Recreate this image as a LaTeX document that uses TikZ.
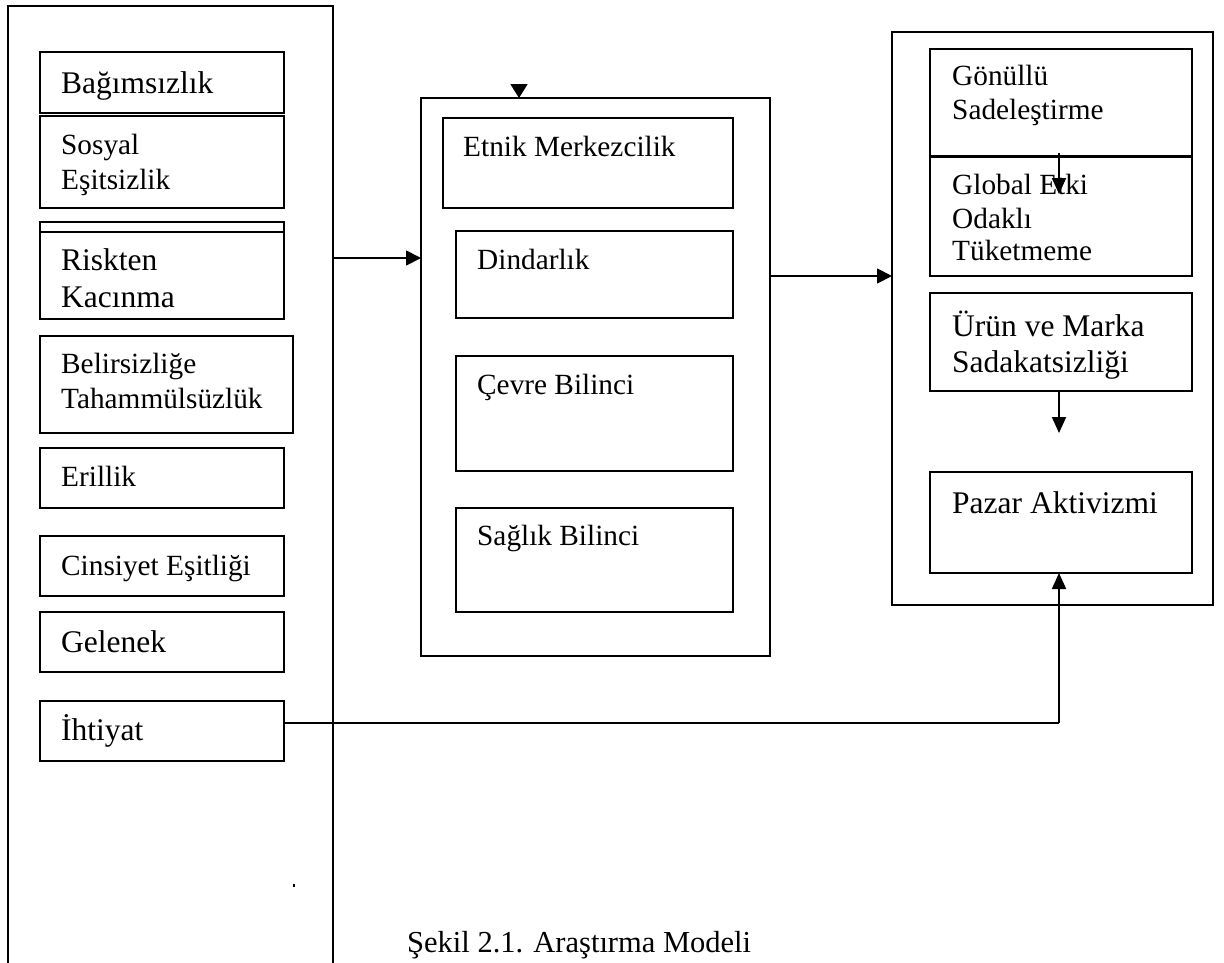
\documentclass[tikz,border=0pt]{standalone}
\usepackage{fontspec}
\setmainfont{Liberation Serif}
\usetikzlibrary{arrows.meta}
\tikzset{
  boxnode/.style={draw, line width=1.5pt, rectangle, inner sep=0pt, outer sep=0pt},
  smalltxt/.style={inner sep=0pt, anchor=base west, font=\fontsize{29.3}{35}\selectfont},
  bigtxt/.style={inner sep=0pt, anchor=base west, font=\fontsize{31.5}{37}\selectfont},
  arr/.style={line width=1.8pt, -{Triangle[length=15pt,width=15pt]}},
}
\begin{document}
\begin{tikzpicture}[x=1pt,y=-1pt]
\useasboundingbox (0,0) rectangle (1224,962);
\clip (0,0) rectangle (1224,962);
% ---------- left column ----------
\node[boxnode, minimum width=325, minimum height=969] (L) at (170.5,490.5) {};
\node[boxnode, minimum width=244, minimum height=61] (bag) at (162,82.5) {};
\node[boxnode, minimum width=244, minimum height=92] (sos) at (162,162) {};
\node[boxnode, minimum width=244, minimum height=97] (risk) at (162,270.5) {};
\draw[line width=1.5pt] (risk.west |- 0,232) -- (risk.east |- 0,232);
\node[boxnode, minimum width=253, minimum height=97] (bel) at (166.5,384.5) {};
\node[boxnode, minimum width=244, minimum height=60] (eril) at (162,478) {};
\node[boxnode, minimum width=244, minimum height=60] (cins) at (162,566) {};
\node[boxnode, minimum width=244, minimum height=60] (gel) at (162,642) {};
\node[boxnode, minimum width=244, minimum height=60] (iht) at (162,731) {};
\node[bigtxt] (tbag) at (61,93) {Bağımsızlık};
\node[smalltxt] (tsos1) at (61,154) {Sosyal};
\node[smalltxt] (tsos2) at (61,189) {Eşitsizlik};
\node[bigtxt] (trisk1) at (61,270) {Riskten};
\node[bigtxt] (trisk2) at (61,307) {Kacınma};
\node[smalltxt] (tbel1) at (61,373) {Belirsizliğe};
\node[smalltxt] (tbel2) at (61,408) {Tahammülsüzlük};
\node[smalltxt] (teril) at (61,486) {Erillik};
\node[smalltxt] (tcins) at (61,575) {Cinsiyet Eşitliği};
\node[bigtxt] (tgel) at (61,652) {Gelenek};
\node[bigtxt] (tiht) at (61,740) {İhtiyat};
\fill (293.3,883.5) rectangle (294.8,886.5);
% ---------- middle column ----------
\node[boxnode, minimum width=349, minimum height=558] (M) at (595.5,377) {};
\node[boxnode, minimum width=290, minimum height=90] (etn) at (588,163) {};
\node[boxnode, minimum width=277, minimum height=87] (din) at (594.5,274.5) {};
\node[boxnode, minimum width=277, minimum height=115] (cev) at (594.5,413.5) {};
\node[boxnode, minimum width=277, minimum height=104] (sag) at (594.5,560) {};
\node[smalltxt] (tetn) at (463,156) {Etnik Merkezcilik};
\node[smalltxt] (tdin) at (477,269) {Dindarlık};
\node[smalltxt] (tcev) at (477,394) {Çevre Bilinci};
\node[smalltxt] (tsag) at (477,545) {Sağlık Bilinci};
% ---------- right column ----------
\node[boxnode, minimum width=321, minimum height=573] (R) at (1052.5,318.5) {};
\node[boxnode, minimum width=262, minimum height=107] (gon) at (1061,102.5) {};
\node[boxnode, minimum width=262, minimum height=120] (glob) at (1061,216) {};
\draw[line width=3pt] (gon.south west) -- (gon.south east);
\node[boxnode, minimum width=262, minimum height=98] (urun) at (1061,342) {};
\node[boxnode, minimum width=262, minimum height=101] (paz) at (1061,522.5) {};
\node[smalltxt] (tgon1) at (952,85) {Gönüllü};
\node[smalltxt] (tgon2) at (952,119) {Sadeleştirme};
\node[smalltxt] (tglob1) at (952,194) {Global Etki};
\node[smalltxt] (tglob2) at (952,228) {Odaklı};
\node[smalltxt] (tglob3) at (952,260) {Tüketmeme};
\node[bigtxt] (turun1) at (952,336) {Ürün ve Marka};
\node[bigtxt] (turun2) at (952,372) {Sadakatsizliği};
\node[bigtxt] (tpaz) at (952,513) {Pazar Aktivizmi};
% ---------- connectors ----------
\coordinate (ylm) at (0,258);
\coordinate (ymr) at (0,276);
\coordinate (gtip) at (1059,194);
\coordinate (utip) at (1059,433);
\coordinate (corner) at (1059,723);
\coordinate (mtop) at (519,86);
\draw[arr] (L.east |- ylm) -- (M.west |- ylm);
\draw[arr] (M.east |- ymr) -- (R.west |- ymr);
\draw[arr, -{Triangle[length=14pt,width=17pt]}] (mtop) -- (M.north -| mtop);
\draw[arr, -{Triangle[length=16pt,width=14pt]}] (gon.south -| gtip) ++(0,-3) -- (gtip);
\draw[arr, -{Triangle[length=16pt,width=14pt]}] (urun.south -| utip) -- (utip);
\draw[line width=1.5pt] (iht.east |- corner) -- (corner);
\draw[arr, -{Triangle[length=16pt,width=14pt]}] (corner) -- (paz.south -| corner);
% ---------- caption ----------
\node[bigtxt, font=\fontsize{30.5}{36}\selectfont] (cap) at (407,952) {Şekil 2.1. Araştırma Modeli};
\end{tikzpicture}
\end{document}
